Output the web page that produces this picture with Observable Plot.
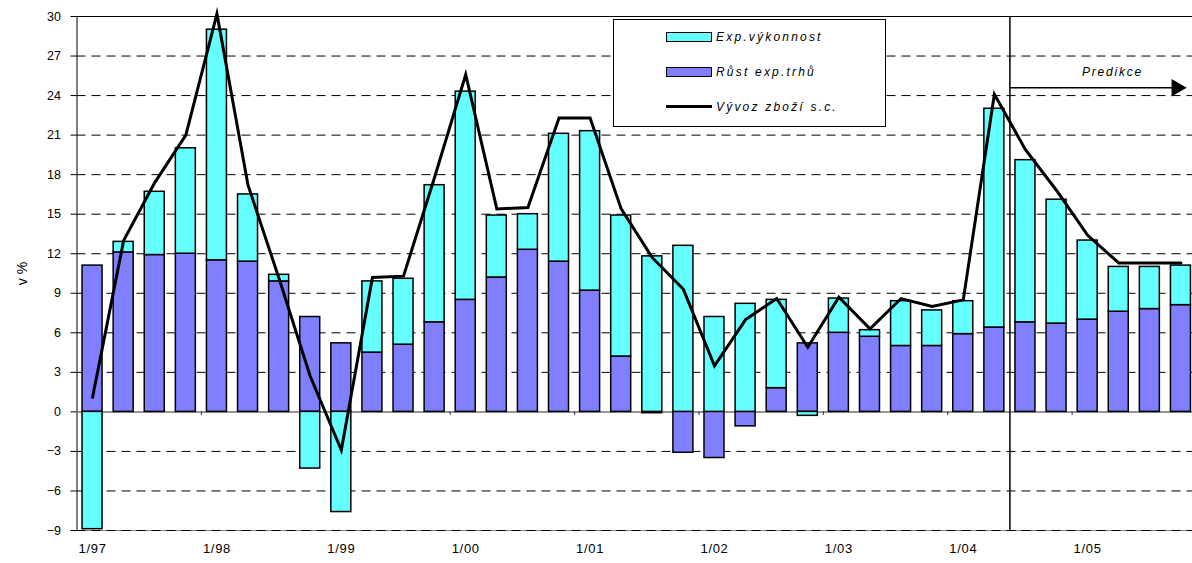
<!DOCTYPE html>
<html>
<head>
<meta charset="utf-8">
<script src="https://cdn.jsdelivr.net/npm/d3@7"></script>
<script src="https://cdn.jsdelivr.net/npm/@observablehq/plot@0.6"></script>
<style>
  body { margin: 0; background: #fff; overflow: hidden; }
  #wrap { position: relative; width: 1192px; height: 563px; }
  .legend { position: absolute; left: 613px; top: 19px; width: 271px; height: 106px;
    border: 1px solid #000; background: #fff;
    font: italic 12px "Liberation Sans", Arial, sans-serif; letter-spacing: 2.2px; color: #000; }
  .sw { position: absolute; left: 52px; width: 44px; height: 8px; border: 1px solid #000; }
  .ln { position: absolute; left: 52px; width: 46px; height: 3px; background: #000; }
  .lt { position: absolute; left: 102px; line-height: 14px; }
</style>
</head>
<body>
<div id="wrap"></div>
<script>
// ---- data ----
const quarters = [
  "1/97","2/97","3/97","4/97","1/98","2/98","3/98","4/98",
  "1/99","2/99","3/99","4/99","1/00","2/00","3/00","4/00",
  "1/01","2/01","3/01","4/01","1/02","2/02","3/02","4/02",
  "1/03","2/03","3/03","4/03","1/04","2/04","3/04","4/04",
  "1/05","2/05","3/05","4/05"
];
// Růst exp.trhů (export market growth)
const market = [11.1,12.1,11.9,12.0,11.5,11.4,9.9,7.2,5.2,4.5,5.1,6.8,8.5,10.2,12.3,11.4,
  9.2,4.2,-0.1,-3.1,-3.5,-1.1,1.8,5.2,6.0,5.7,5.0,5.0,5.9,6.4,6.8,6.7,7.0,7.6,7.8,8.1];
// Exp.výkonnost (export performance)
const perf = [-8.9,0.8,4.8,8.0,17.5,5.1,0.5,-4.3,-7.6,5.4,5.0,10.4,15.8,4.7,2.7,9.7,
  12.1,10.7,11.8,12.6,7.2,8.2,6.7,-0.3,2.6,0.5,3.4,2.7,2.5,16.6,12.3,9.4,6.0,3.4,3.2,3.0];
// Vývoz zboží s.c. (goods exports, constant prices)
const exportsSC = [1.1,13.0,17.4,21.0,30.2,17.2,10.1,2.7,-2.9,10.2,10.3,17.8,25.6,15.4,15.5,22.3,
  22.3,15.4,11.7,9.3,3.5,7.0,8.6,4.9,8.7,6.3,8.6,8.0,8.5,24.1,19.9,16.8,13.4,11.3,11.3,11.3];

const seriesNames = ["Růst exp.trhů", "Exp.výkonnost"];
const seriesColors = ["#8080ff", "#66ffff"];
const lineName = "Vývoz zboží s.c.";
const yTicks = [-9,-6,-3,0,3,6,9,12,15,18,21,24,27,30];
const predictionLabel = "Predikce";
const predictionStart = 30;   // index of 3/04: forecast begins
const arrowLevel = 24.6;      // y value of the forecast arrow
const arrowEnd = 35.36;
const predLabelPos = {x: 33.3, y: 25.8};

// ---- derived tables ----
const rows = quarters.flatMap((q, i) => [
  {i, q, series: seriesNames[0], value: market[i]},
  {i, q, series: seriesNames[1], value: perf[i]}
]);
const linePts = quarters.map((q, i) => ({i, q, value: exportsSC[i]}));
const q1Idx = quarters.map((q, i) => q.startsWith("1/") ? i : -1).filter(i => i >= 0);
const yearBounds = q1Idx.filter(i => i > 0);
const gridDashed = yTicks.filter(t => t !== 0 && t !== 30);

const font = '"Liberation Sans", Arial, sans-serif';

const plot = Plot.plot({
  width: 1192,
  height: 563,
  marginLeft: 76.5,
  marginRight: 0,
  marginTop: 16,
  marginBottom: 33,
  x: {type: "linear", domain: [0, quarters.length], range: [76.5, 1196]},
  y: {domain: [-9, 30]},
  color: {domain: seriesNames, range: seriesColors},
  style: {fontFamily: font, fontSize: "12px", color: "#000", background: "#fff", overflow: "visible"},
  marks: [
    Plot.ruleY([-9], {stroke: "#808080", strokeWidth: 1}),
    Plot.ruleY(gridDashed, {stroke: "#000", strokeWidth: 1, strokeDasharray: "9,6"}),
    Plot.ruleY([30], {stroke: "#000", strokeWidth: 1}),
    Plot.ruleX([0], {y1: -9, y2: 30, stroke: "#000", strokeWidth: 1}),
    Plot.ruleY([0], {stroke: "#707070", strokeWidth: 1.5}),
    Plot.rectY(rows, Plot.stackY({
      x1: d => d.i, x2: d => d.i + 1, y: "value", fill: "series", order: null,
      insetLeft: 5.55, insetRight: 5.55, stroke: "#000", strokeWidth: 1.5
    })),
    Plot.ruleX(yearBounds, {y1: 0, y2: -0.28, stroke: "#333", strokeWidth: 1}),
    Plot.ruleX([predictionStart], {y1: -9, y2: 30, stroke: "#000", strokeWidth: 1.5}),
    Plot.line(linePts, {x: d => d.i + 0.5, y: "value", stroke: "#000", strokeWidth: 3,
      strokeLinejoin: "miter", strokeMiterlimit: 10}),
    Plot.ruleY([arrowLevel], {x1: predictionStart, x2: arrowEnd, stroke: "#000", strokeWidth: 1.5}),
    Plot.dot([arrowLevel], {x: arrowEnd, y: d => d, symbol: "triangle", rotate: 90, r: 6.5,
      fill: "#000", stroke: "none"}),
    Plot.text([predictionLabel], {x: predLabelPos.x, y: predLabelPos.y, text: d => d,
      fontStyle: "italic", fontSize: 12, fill: "#000"}),
    Plot.axisY(yTicks, {tickSize: 6, tickPadding: 10, fontSize: 12.5, stroke: "#000",
      label: "v %", labelAnchor: "center", labelArrow: "none", labelOffset: 60}),
    Plot.axisX(q1Idx.map(i => i + 0.5), {anchor: "bottom", tickSize: 0, tickPadding: 13,
      fontSize: 13, tickFormat: d => quarters[Math.floor(d)], label: null})
  ]
});

const svg = d3.select(plot);
svg.selectAll("text").filter(function() { return this.textContent === predictionLabel; })
  .style("letter-spacing", "1.8px");
svg.selectAll("text").filter(function() { return /^\d\/\d\d$/.test(this.textContent); })
  .style("letter-spacing", "0.7px");
svg.selectAll("text").filter(function() { return this.textContent === "v %"; })
  .style("font-size", "14px");

const wrap = document.getElementById("wrap");
wrap.appendChild(plot);

const legend = document.createElement("div");
legend.className = "legend";
legend.innerHTML = `
  <div class="sw" style="top:12px;background:${seriesColors[1]}"></div>
  <div class="lt" style="top:10px">${seriesNames[1]}</div>
  <div class="sw" style="top:47px;background:${seriesColors[0]}"></div>
  <div class="lt" style="top:45px">${seriesNames[0]}</div>
  <div class="ln" style="top:85px"></div>
  <div class="lt" style="top:80px">${lineName}</div>`;
wrap.appendChild(legend);
</script>
</body>
</html>
